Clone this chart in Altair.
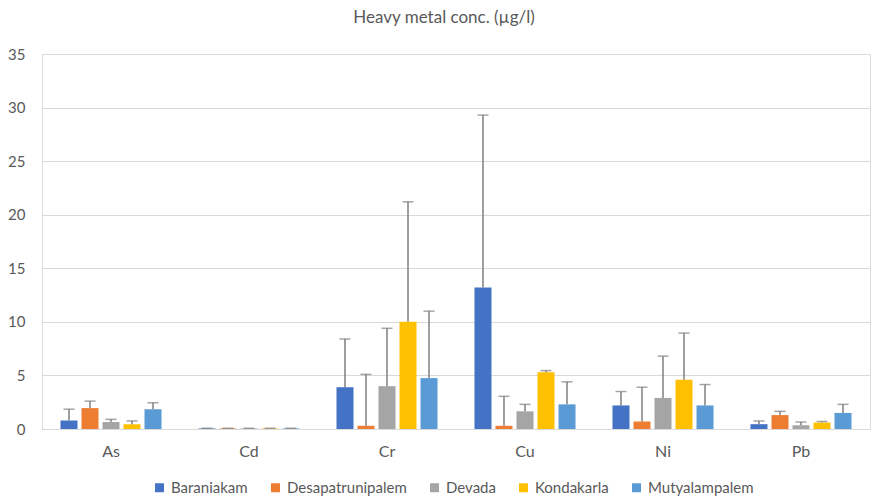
import altair as alt
import pandas as pd

categories = ["As", "Cd", "Cr", "Cu", "Ni", "Pb"]
sites = ["Baraniakam", "Desapatrunipalem", "Devada", "Kondakarla", "Mutyalampalem"]
colors = ["#4472C4", "#ED7D31", "#A5A5A5", "#FFC000", "#5B9BD5"]

# mean concentrations per site, in category order
Baraniakam = [0.8, 0.05, 3.9, 13.2, 2.2, 0.45]
Desapatrunipalem = [1.95, 0.05, 0.3, 0.3, 0.7, 1.3]
Devada = [0.65, 0.05, 4.0, 1.65, 2.9, 0.35]
Kondakarla = [0.45, 0.05, 10.0, 5.3, 4.6, 0.6]
Mutyalampalem = [1.85, 0.05, 4.75, 2.3, 2.2, 1.5]

# standard deviations (upper error bars)
Baraniakam_sd = [1.05, 0.02, 4.5, 16.1, 1.3, 0.3]
Desapatrunipalem_sd = [0.65, 0.02, 4.8, 2.75, 3.2, 0.35]
Devada_sd = [0.25, 0.02, 5.4, 0.65, 3.9, 0.3]
Kondakarla_sd = [0.3, 0.02, 11.2, 0.15, 4.35, 0.1]
Mutyalampalem_sd = [0.6, 0.02, 6.25, 2.1, 1.95, 0.8]

means = [Baraniakam, Desapatrunipalem, Devada, Kondakarla, Mutyalampalem]
sds = [Baraniakam_sd, Desapatrunipalem_sd, Devada_sd, Kondakarla_sd, Mutyalampalem_sd]

rows = []
for s, m, e in zip(sites, means, sds):
    for c, v, d in zip(categories, m, e):
        rows.append({"metal": c, "site": s, "value": v, "upper": v + d})
df = pd.DataFrame(rows)

FONT = "Lato"
TXT = "#595959"

x_enc = alt.X("metal:N", sort=categories,
              scale=alt.Scale(paddingInner=0, paddingOuter=0),
              axis=alt.Axis(title=None, labelAngle=0, ticks=False, domainColor="#d9d9d9",
                            labelPadding=14, labelColor=TXT, labelFontSize=16, labelFont=FONT,
                            grid=False))
xo_enc = alt.XOffset("site:N", sort=sites, scale=alt.Scale(paddingInner=0.19, paddingOuter=0.88))

base = alt.Chart(df)

bars = base.mark_bar().encode(
    x=x_enc,
    xOffset=xo_enc,
    y=alt.Y("value:Q", scale=alt.Scale(domain=[0, 35]),
            axis=alt.Axis(title=None, values=[0, 5, 10, 15, 20, 25, 30, 35], domain=False, ticks=False,
                          gridColor="#d9d9d9", labelColor=TXT, labelFontSize=15, labelFont=FONT,
                          labelPadding=17)),
    color=alt.Color("site:N", sort=sites, scale=alt.Scale(domain=sites, range=colors),
                    legend=alt.Legend(title=None, orient="none", direction="horizontal",
                                      legendX=110, legendY=426, columnPadding=20, labelOffset=4,
                                      symbolType="square", symbolSize=81, symbolStrokeWidth=0,
                                      labelFont=FONT, labelFontSize=15, labelColor=TXT)),
)

rules = base.mark_rule(color="#7f7f7f", strokeWidth=1.5).encode(
    x=alt.X("metal:N", sort=categories),
    xOffset=alt.XOffset("site:N", sort=sites),
    y="value:Q",
    y2="upper:Q",
)

caps = base.mark_tick(color="#7f7f7f", thickness=1.5, size=11, orient="horizontal").encode(
    x=alt.X("metal:N", sort=categories),
    xOffset=alt.XOffset("site:N", sort=sites),
    y="upper:Q",
)

chart = alt.layer(bars, rules, caps).properties(
    width=828, height=375,
    autosize=alt.AutoSizeParams(type="none"),
    padding={"left": 42, "top": 54, "right": 1, "bottom": 72},
    title=alt.TitleParams("Heavy metal conc. (µg/l)", fontSize=17, font=FONT, color=TXT,
                          fontWeight="normal", anchor="middle", dx=-12, offset=20),
).configure_view(stroke=None).configure(background="white")

chart.save("out.html", embed_options={"renderer": "svg", "actions": False})
